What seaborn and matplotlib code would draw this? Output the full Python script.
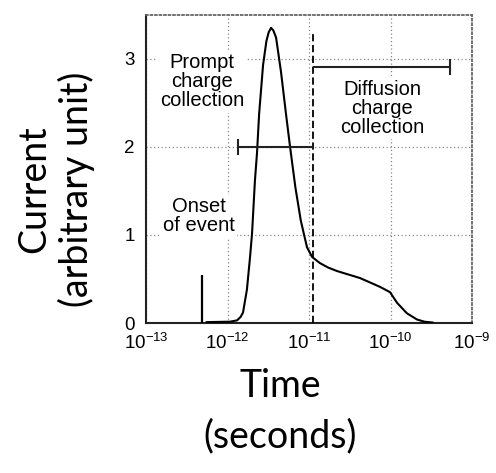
import numpy as np
import pandas as pd
import matplotlib
matplotlib.use("Agg")
import matplotlib.pyplot as plt
import seaborn as sns

# transient current pulse
time_s = [5.5e-13, 1.07e-12, 1.31e-12, 1.45e-12, 1.55e-12, 1.73e-12, 1.89e-12, 2.0e-12,
          2.17e-12, 2.30e-12, 2.44e-12, 2.73e-12, 3.0e-12, 3.2e-12, 3.42e-12, 3.65e-12,
          3.94e-12, 4.53e-12, 5.22e-12, 5.85e-12, 6.8e-12, 7.9e-12, 8.6e-12, 9.44e-12,
          1.09e-11, 1.36e-11, 1.71e-11, 2.2e-11, 4.23e-11, 7.43e-11, 9.86e-11,
          1.20e-10, 1.59e-10, 2.11e-10, 2.6e-10, 3.32e-10]
current = [0.01, 0.015, 0.03, 0.07, 0.12, 0.38, 0.75, 1.02,
           1.62, 1.93, 2.37, 2.93, 3.2, 3.3, 3.35, 3.32,
           3.24, 2.85, 2.37, 2.0, 1.54, 1.17, 1.02, 0.86,
           0.75, 0.68, 0.63, 0.59, 0.51, 0.41, 0.35,
           0.23, 0.11, 0.04, 0.015, 0.005]

spike_time = 4.9e-13
spike_height = 0.55
boundary_time = 1.12e-11
boundary_top = 3.28
prompt_range = [1.35e-12, 1.12e-11]
prompt_level = 2.0
diffusion_range = [1.12e-11, 5.37e-10]
diffusion_level = 2.9

xticks = [1e-13, 1e-12, 1e-11, 1e-10, 1e-9]
yticks = [0, 1, 2, 3]

df = pd.DataFrame({"Time": time_s, "Current": current})

sns.set_theme(style="white")
plt.rcParams["font.family"] = ["Liberation Sans", "DejaVu Sans"]
plt.rcParams["mathtext.fontset"] = "custom"
plt.rcParams["mathtext.rm"] = "Liberation Sans"
plt.rcParams["mathtext.it"] = "Liberation Sans"
plt.rcParams["mathtext.default"] = "regular"
plt.rcParams["text.color"] = "black"

fig = plt.figure(figsize=(4.96, 4.73), dpi=100)
ax = fig.add_axes([0.2944, 0.3171, 0.6573, 0.652])
ax.set_xscale("log")

sns.lineplot(data=df, x="Time", y="Current", ax=ax, color="black", lw=1.5, zorder=3)
ax.vlines(spike_time, 0, spike_height, color="black", lw=1.6, zorder=3)
ax.vlines(boundary_time, 0, boundary_top, color="black", lw=1.3, linestyles=(0, (4, 2)), zorder=3)

ax.hlines(prompt_level, *prompt_range, color="#222222", lw=1.5, zorder=3)
ax.plot([prompt_range[0]], [prompt_level], marker="|", ms=11, mew=1.5, color="#222222", zorder=3)
ax.hlines(diffusion_level, *diffusion_range, color="#222222", lw=1.5, zorder=3)
ax.plot([diffusion_range[1]], [diffusion_level], marker="|", ms=11, mew=1.5, color="#222222", zorder=3)

box = dict(facecolor="white", edgecolor="none", pad=2)
tkw = dict(ha="center", va="center", fontsize=14.5, linespacing=1.0, color="black", bbox=box, zorder=2)
ax.text(4.9e-13, 2.74, "Prompt\ncharge\ncollection", **tkw)
ax.text(7.9e-11, 2.44, "Diffusion\ncharge\ncollection", **tkw)
ax.text(4.4e-13, 1.21, "Onset\nof event", **tkw)

ax.set_xlim(1e-13, 1e-9)
ax.set_ylim(0, 3.5)
ax.set_xticks(xticks)
ax.set_yticks(yticks)
ax.minorticks_off()
ax.tick_params(axis="both", length=0, labelsize=13.5, colors="black")
ax.tick_params(axis="x", pad=7)
ax.tick_params(axis="y", pad=8)
ax.set_xlabel("")
ax.set_ylabel("")

ax.grid(True, linestyle=(0, (1, 2)), color="#888888", lw=0.9)
ax.set_axisbelow(True)
for s in ["left", "bottom"]:
    ax.spines[s].set_color("#222222")
    ax.spines[s].set_linewidth(1.5)
for s in ["top", "right"]:
    ax.spines[s].set_color("#666666")
    ax.spines[s].set_linestyle((0, (1, 1.5)))
    ax.spines[s].set_linewidth(1.3)

fig.text(0.112, 0.60, "Current\n(arbitrary unit)", rotation=90, ha="center", va="center",
         fontsize=27, family=["Lato", "DejaVu Sans"], linespacing=1.2, multialignment="center",
         color="black")
fig.text(0.565, 0.13, "Time\n(seconds)", ha="center", va="center",
         fontsize=27, family=["Lato", "DejaVu Sans"], linespacing=1.5, multialignment="center",
         color="black")

fig.savefig("out.png", dpi=100)
